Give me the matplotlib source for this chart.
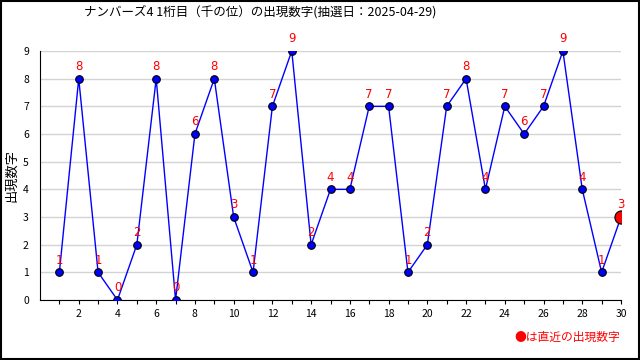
import numpy as np
import matplotlib
matplotlib.use("Agg")
import matplotlib.pyplot as plt

plt.rcParams['font.family'] = ['Noto Sans CJK JP', 'DejaVu Sans']

draws = list(range(1, 31))
digits = [1, 8, 1, 0, 2, 8, 0, 6, 8, 3, 1, 7, 9, 2, 4, 4, 7, 7, 1, 2,
          7, 8, 4, 7, 6, 7, 9, 4, 1, 3]
title = "ナンバーズ4 1桁目（千の位）の出現数字(抽選日：2025-04-29)"

fig = plt.figure(figsize=(6.4, 3.6), dpi=100)
ax = fig.add_axes([40/640, 60/360, 581/640, 249/360])

ax.plot(draws, digits, color='blue', lw=1, zorder=3)
ax.scatter(draws[:-1], digits[:-1], s=30, c='blue', edgecolors='black',
           linewidths=0.8, zorder=4)
ax.scatter(draws[-1:], digits[-1:], s=90, c='red', edgecolors='black',
           linewidths=0.8, zorder=5)
for x, y in zip(draws, digits):
    ax.annotate(str(y), (x, y), xytext=(0, 4), textcoords='offset points',
                ha='center', va='bottom', color='red', fontsize=8.5,
                family='DejaVu Sans', zorder=6)

ax.set_xlim(0, 30)
ax.set_ylim(0, 9)
ax.set_xticks(range(2, 31, 2))
ax.set_xticks(range(1, 31), minor=True)
ax.set_yticks(range(0, 10))
ax.tick_params(axis='both', labelsize=7.5, length=3, width=0.8)
ax.tick_params(axis='x', which='minor', length=3, width=0.8)
ax.tick_params(axis='y', length=0, pad=8)
ax.grid(axis='y', color='#d3d3d3', lw=1)
for s in ['top', 'right']:
    ax.spines[s].set_visible(False)
ax.set_axisbelow(True)

fig.text(12/640, 1 - 175/360, "出現数字", rotation=90, ha='center',
         va='center', fontsize=9.5)
fig.text(260/640, 1 - 12/360, title, ha='center', va='center', fontsize=9)
fig.text(620/640, 1 - 337/360, "●は直近の出現数字", ha='right', va='center',
         color='red', fontsize=8.5)
fig.patches.append(plt.Rectangle((0.001, 0.002), 0.997, 0.996, fill=False,
                                 ec='black', lw=1.5, transform=fig.transFigure))

fig.savefig("out.png", dpi=100)
